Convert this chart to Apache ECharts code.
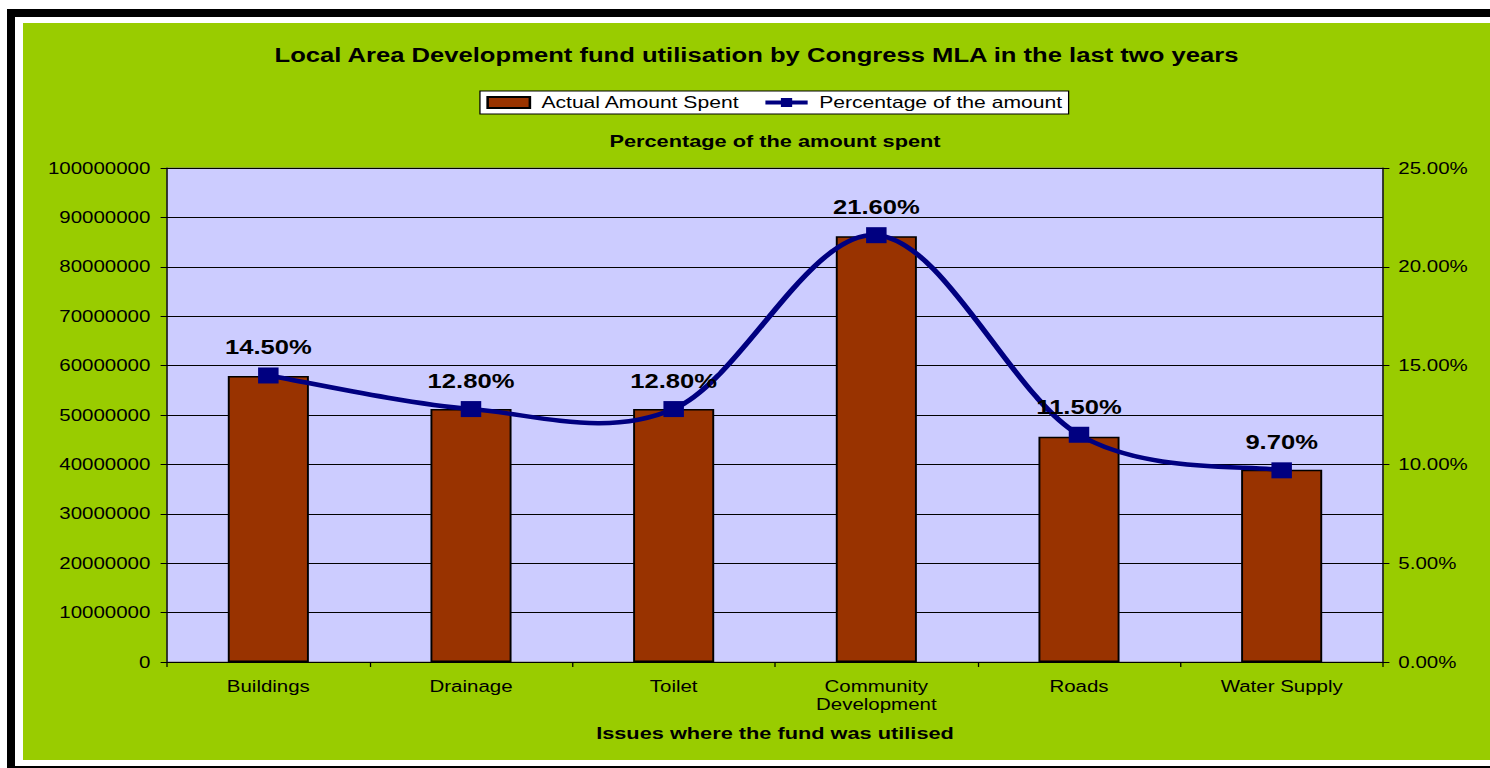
<!DOCTYPE html>
<html>
<head>
<meta charset="utf-8">
<title>Local Area Development fund utilisation</title>
<script src="https://cdn.jsdelivr.net/npm/echarts@6/dist/echarts.min.js"></script>
<style>
    body{margin:0;background:#fff;overflow:hidden;width:1490px;height:768px;position:relative;}
    .frame{position:absolute;left:7px;top:9px;width:1600px;height:759px;background:#000;}
    .gap{position:absolute;left:15px;top:17px;width:1600px;height:749px;background:#fff;}
    .panel{position:absolute;left:23px;top:23px;width:1467px;height:737px;background:#99CC00;overflow:hidden;}
    /* the source picture is stretched sideways, so the chart is drawn narrow and scaled in x */
    #fundChart{width:1146px;height:737px;transform:scaleX(1.28);transform-origin:0 0;}
</style>
</head>
<body>
<div class="frame"></div>
<div class="gap"></div>
<div class="panel"><div id="fundChart"></div></div>
<script>
const categories = ['Buildings', 'Drainage', 'Toilet', 'Community\nDevelopment', 'Roads', 'Water Supply'];
const amountSpent = [57900000, 51200000, 51200000, 86200000, 45600000, 38900000];
const percentSpent = [14.5, 12.8, 12.8, 21.6, 11.5, 9.7];
const amountTicks = [0, 100000000, 10000000];   // min, max, interval
const percentTicks = [0, 25, 5];

const font = 'Arial, "Liberation Sans", sans-serif';
const navy = '#000080';

// Excel style smoothed line: bezier segments, control points at 1/6 of the neighbour chord
function renderSmoothSegment(params, api) {
    let i = params.dataIndex;
    let n = percentSpent.length;
    if (i >= n - 1) return null;
    let pt = function (k) {
        k = Math.max(0, Math.min(n - 1, k));
        return api.coord([k, percentSpent[k]]);
    };
    let p0 = pt(i - 1), p1 = pt(i), p2 = pt(i + 1), p3 = pt(i + 2);
    return {
        type: 'bezierCurve',
        shape: {
            x1: p1[0], y1: p1[1],
            cpx1: p1[0] + (p2[0] - p0[0]) / 6, cpy1: p1[1] + (p2[1] - p0[1]) / 6,
            cpx2: p2[0] - (p3[0] - p1[0]) / 6, cpy2: p2[1] - (p3[1] - p1[1]) / 6,
            x2: p2[0], y2: p2[1]
        },
        style: { stroke: navy, lineWidth: 4.5, fill: null }
    };
}

var myChart = echarts.init(document.getElementById('fundChart'), null, { renderer: 'svg' });
let option = {
    backgroundColor: 'transparent',
    textStyle: { fontFamily: font, color: '#000' },
    title: {
        text: 'Local Area Development fund utilisation by Congress MLA in the last two years',
        left: 'center',
        top: 17,
        textStyle: { fontFamily: font, fontSize: 20, fontWeight: 'bold', color: '#000' }
    },
    legend: {
        left: 357,
        top: 68,
        padding: [3, 5],
        itemGap: 18,
        itemWidth: 33,
        itemHeight: 11,
        backgroundColor: '#fff',
        borderColor: '#000',
        borderWidth: 1,
        borderRadius: 0,
        textStyle: { fontFamily: font, fontSize: 16.5, color: '#000', padding: [0, 0, 0, 4] },
        data: [
            { name: 'Actual Amount Spent', icon: 'rect' },
            { name: 'Percentage of the amount', lineStyle: { color: navy, width: 4, opacity: 1 } }
        ]
    },
    graphic: [
        {
            type: 'text',
            x: 587.5,
            y: 118,
            style: {
                text: 'Percentage of the amount spent',
                font: 'bold 17px ' + font,
                fill: '#000',
                align: 'center',
                verticalAlign: 'middle'
            }
        }
    ],
    grid: {
        left: 112.5,
        right: 83.5,
        top: 145,
        bottom: 98,
        show: true,
        backgroundColor: '#CCCCFF',
        borderColor: '#808080',
        borderWidth: 1
    },
    xAxis: {
        type: 'category',
        data: categories,
        name: 'Issues where the fund was utilised',
        nameLocation: 'middle',
        nameGap: 62,
        nameTextStyle: { fontFamily: font, fontSize: 17, fontWeight: 'bold', color: '#000' },
        axisLine: { lineStyle: { color: '#000', width: 1 } },
        axisTick: { show: true, length: 5, lineStyle: { color: '#000' } },
        axisLabel: { fontFamily: font, fontSize: 16, color: '#000', margin: 15, lineHeight: 18 },
        splitLine: { show: false }
    },
    yAxis: [
        {
            type: 'value',
            min: amountTicks[0],
            max: amountTicks[1],
            interval: amountTicks[2],
            axisLine: { show: true, lineStyle: { color: '#000', width: 1 } },
            axisTick: { show: true, length: 5, lineStyle: { color: '#000' } },
            axisLabel: {
                fontFamily: font, fontSize: 16, color: '#000', margin: 13,
                formatter: function (v) { return String(v); }
            },
            splitLine: { show: true, lineStyle: { color: '#000', width: 1 } }
        },
        {
            type: 'value',
            min: percentTicks[0],
            max: percentTicks[1],
            interval: percentTicks[2],
            position: 'right',
            axisLine: { show: true, lineStyle: { color: '#000', width: 1 } },
            axisTick: { show: true, length: 5, lineStyle: { color: '#000' } },
            axisLabel: {
                fontFamily: font, fontSize: 16, color: '#000', margin: 12,
                formatter: function (v) { return v.toFixed(2) + '%'; }
            },
            splitLine: { show: false }
        }
    ],
    series: [
        {
            name: 'Actual Amount Spent',
            type: 'bar',
            yAxisIndex: 0,
            barWidth: '40%',
            data: amountSpent,
            itemStyle: { color: '#993300', borderColor: '#000', borderWidth: 1.5 },
            z: 2
        },
        {
            name: 'curve',
            type: 'custom',
            yAxisIndex: 1,
            data: percentSpent.map(function (v, i) { return [i, v]; }),
            encode: { x: 0, y: 1 },
            renderItem: renderSmoothSegment,
            silent: true,
            z: 3
        },
        {
            name: 'Percentage of the amount',
            type: 'line',
            yAxisIndex: 1,
            data: percentSpent,
            symbol: 'rect',
            symbolSize: 16,
            lineStyle: { color: navy, width: 0, opacity: 0 },
            itemStyle: { color: navy },
            label: {
                show: true,
                position: 'top',
                distance: 10,
                fontFamily: font,
                fontSize: 20,
                fontWeight: 'bold',
                color: '#000',
                formatter: function (p) { return p.value.toFixed(2) + '%'; }
            },
            z: 4
        }
    ]
};
myChart.setOption(option);
</script>
</body>
</html>
